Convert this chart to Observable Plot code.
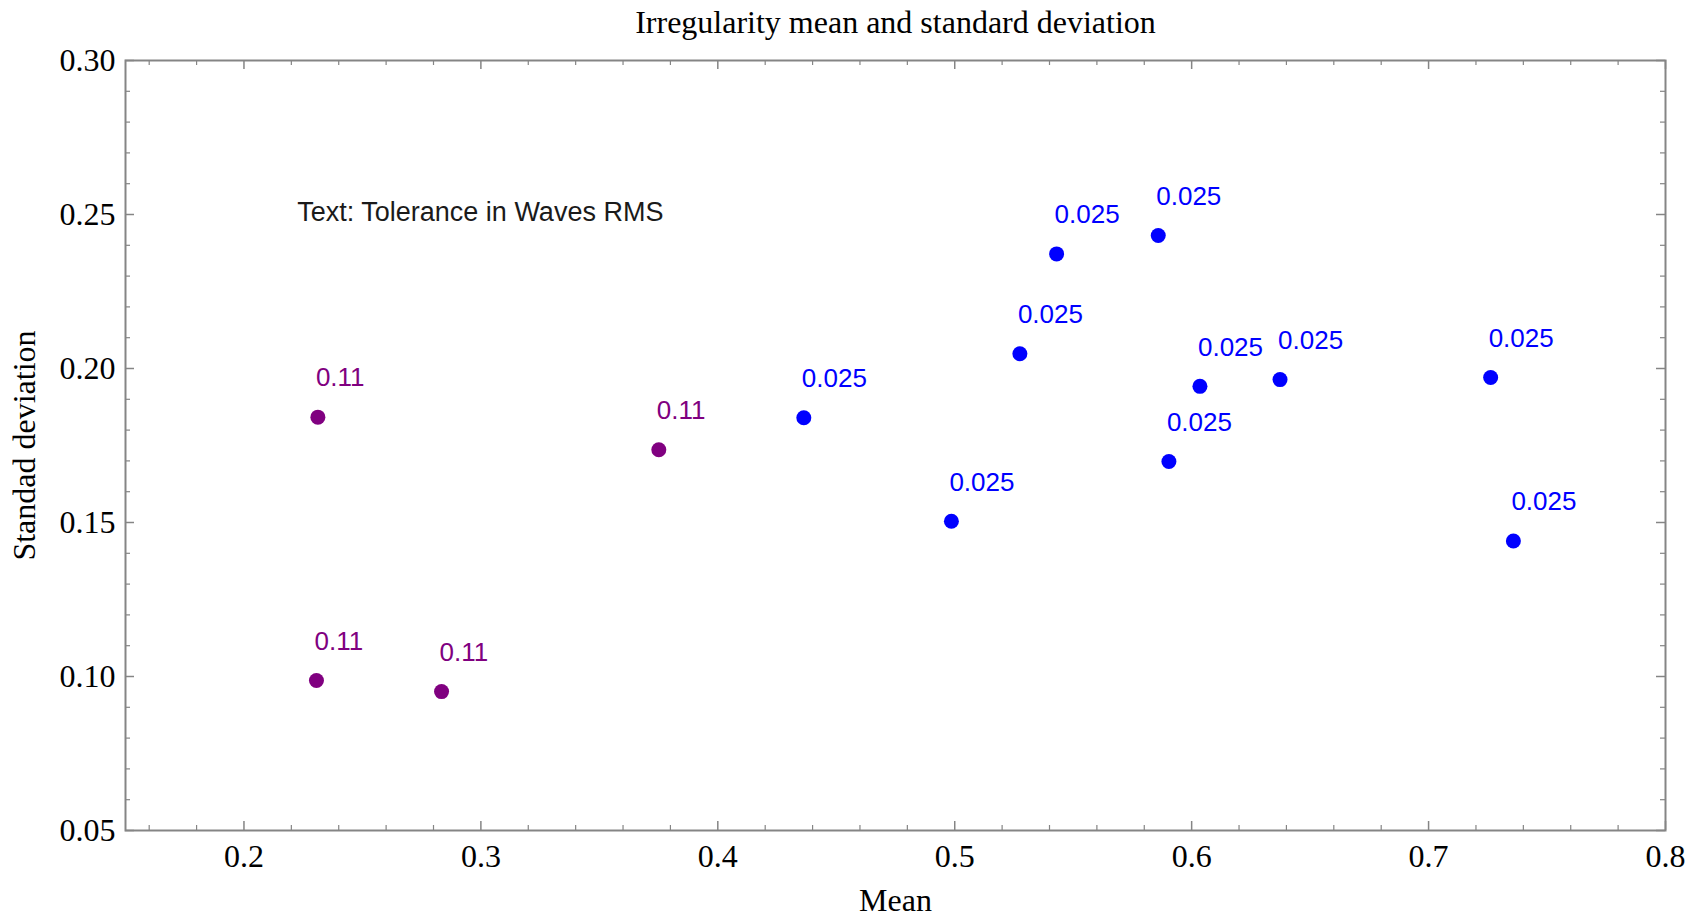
<!DOCTYPE html>
<html>
<head>
<meta charset="utf-8">
<script src="https://cdn.jsdelivr.net/npm/d3@7"></script>
<script src="https://cdn.jsdelivr.net/npm/@observablehq/plot@0.6"></script>
<style>
  html, body { margin: 0; padding: 0; background: #fff; }
  #chart svg { display: block; }
</style>
</head>
<body>
<div id="chart"></div>
<script>
// ---- data ----
const means = [0.2312, 0.2306, 0.2834, 0.3751, 0.4363, 0.4986, 0.5275, 0.5430, 0.5859, 0.5904, 0.6035, 0.6373, 0.7262, 0.7358];
const stdevs = [0.1842, 0.0987, 0.0951, 0.1736, 0.1840, 0.1504, 0.2048, 0.2372, 0.2432, 0.1698, 0.1942, 0.1964, 0.1971, 0.1440];
const tolerances = ["0.11", "0.11", "0.11", "0.11", "0.025", "0.025", "0.025", "0.025", "0.025", "0.025", "0.025", "0.025", "0.025", "0.025"];
const toleranceLevels = ["0.11", "0.025"];
const toleranceColors = ["#800080", "#0000ff"];

const xMajor = [0.2, 0.3, 0.4, 0.5, 0.6, 0.7, 0.8];
const xMinor = [0.16, 0.18, 0.22, 0.24, 0.26, 0.28, 0.32, 0.34, 0.36, 0.38, 0.42, 0.44, 0.46, 0.48,
                0.52, 0.54, 0.56, 0.58, 0.62, 0.64, 0.66, 0.68, 0.72, 0.74, 0.76, 0.78];
const yMajor = [0.05, 0.10, 0.15, 0.20, 0.25, 0.30];
const yMinor = [0.06, 0.07, 0.08, 0.09, 0.11, 0.12, 0.13, 0.14, 0.16, 0.17, 0.18, 0.19,
                0.21, 0.22, 0.23, 0.24, 0.26, 0.27, 0.28, 0.29];

const titleText = "Irregularity mean and standard deviation";
const xLabel = "Mean";
const yLabel = "Standad deviation";
const noteText = "Text: Tolerance in Waves RMS";
const noteMean = [0.2225];
const noteStdev = [0.2506];

const points = means.map((m, i) => ({mean: m, sd: stdevs[i], tol: tolerances[i]}));

// ---- layout ----
const W = 1698, H = 917;
const mL = 125, mR = 33, mT = 60, mB = 87;
const frameH = H - mT - mB;
const frameW = W - mL - mR;
const axisColor = "#858585";
const serif = "'Liberation Serif', 'Times New Roman', serif";
const sans = "'Liberation Sans', Arial, sans-serif";
const majorLen = 9, minorLen = 5;

const chart = Plot.plot({
  width: W,
  height: H,
  marginLeft: mL,
  marginRight: mR,
  marginTop: mT,
  marginBottom: mB,
  x: {domain: [0.15, 0.8], axis: null},
  y: {domain: [0.05, 0.30], axis: null},
  color: {domain: toleranceLevels, range: toleranceColors},
  style: {background: "#fff", overflow: "visible"},
  marks: [
    // ticks (inward, on all four sides)
    Plot.tickX(xMajor, {x: d => d, insetTop: frameH - majorLen, stroke: axisColor, strokeWidth: 1.5}),
    Plot.tickX(xMinor, {x: d => d, insetTop: frameH - minorLen, stroke: axisColor, strokeWidth: 1.2}),
    Plot.tickX(xMajor, {x: d => d, insetBottom: frameH - majorLen, stroke: axisColor, strokeWidth: 1.5}),
    Plot.tickX(xMinor, {x: d => d, insetBottom: frameH - minorLen, stroke: axisColor, strokeWidth: 1.2}),
    Plot.tickY(yMajor, {y: d => d, insetRight: frameW - majorLen, stroke: axisColor, strokeWidth: 1.5}),
    Plot.tickY(yMinor, {y: d => d, insetRight: frameW - minorLen, stroke: axisColor, strokeWidth: 1.2}),
    Plot.tickY(yMajor, {y: d => d, insetLeft: frameW - majorLen, stroke: axisColor, strokeWidth: 1.5}),
    Plot.tickY(yMinor, {y: d => d, insetLeft: frameW - minorLen, stroke: axisColor, strokeWidth: 1.2}),
    Plot.frame({stroke: axisColor, strokeWidth: 2}),
    // tick labels
    Plot.text(xMajor, {x: d => d, frameAnchor: "bottom", dy: 26, text: d => d.toFixed(1),
      fontSize: 32, fontFamily: serif, fill: "#000", lineAnchor: "middle"}),
    Plot.text(yMajor, {y: d => d, frameAnchor: "left", dx: -10, textAnchor: "end", text: d => d.toFixed(2),
      fontSize: 32, fontFamily: serif, fill: "#000", lineAnchor: "middle"}),
    // titles
    Plot.text([titleText], {frameAnchor: "top", dy: -38, text: d => d, fontSize: 32, fontFamily: serif,
      fill: "#000", lineAnchor: "middle", textAnchor: "middle"}),
    Plot.text([xLabel], {frameAnchor: "bottom", dy: 70, text: d => d, fontSize: 32, fontFamily: serif,
      fill: "#000", lineAnchor: "middle", textAnchor: "middle"}),
    Plot.text([yLabel], {frameAnchor: "left", dx: -101, rotate: -90, text: d => d, fontSize: 32,
      fontFamily: serif, fill: "#000", lineAnchor: "middle", textAnchor: "middle"}),
    // annotation
    Plot.text(noteMean, {x: d => d, y: (d, i) => noteStdev[i], text: () => noteText, textAnchor: "start",
      fontSize: 27, fontFamily: sans, fill: "#1a1a1a", lineAnchor: "middle"}),
    // data
    Plot.dot(points, {x: "mean", y: "sd", fill: "tol", r: 7.5, stroke: null}),
    Plot.text(points, {x: "mean", y: "sd", text: "tol", fill: "tol", dx: -2, dy: -39, textAnchor: "start",
      fontSize: 26, fontFamily: sans, lineAnchor: "middle"})
  ]
});

document.getElementById("chart").appendChild(chart);
</script>
</body>
</html>
